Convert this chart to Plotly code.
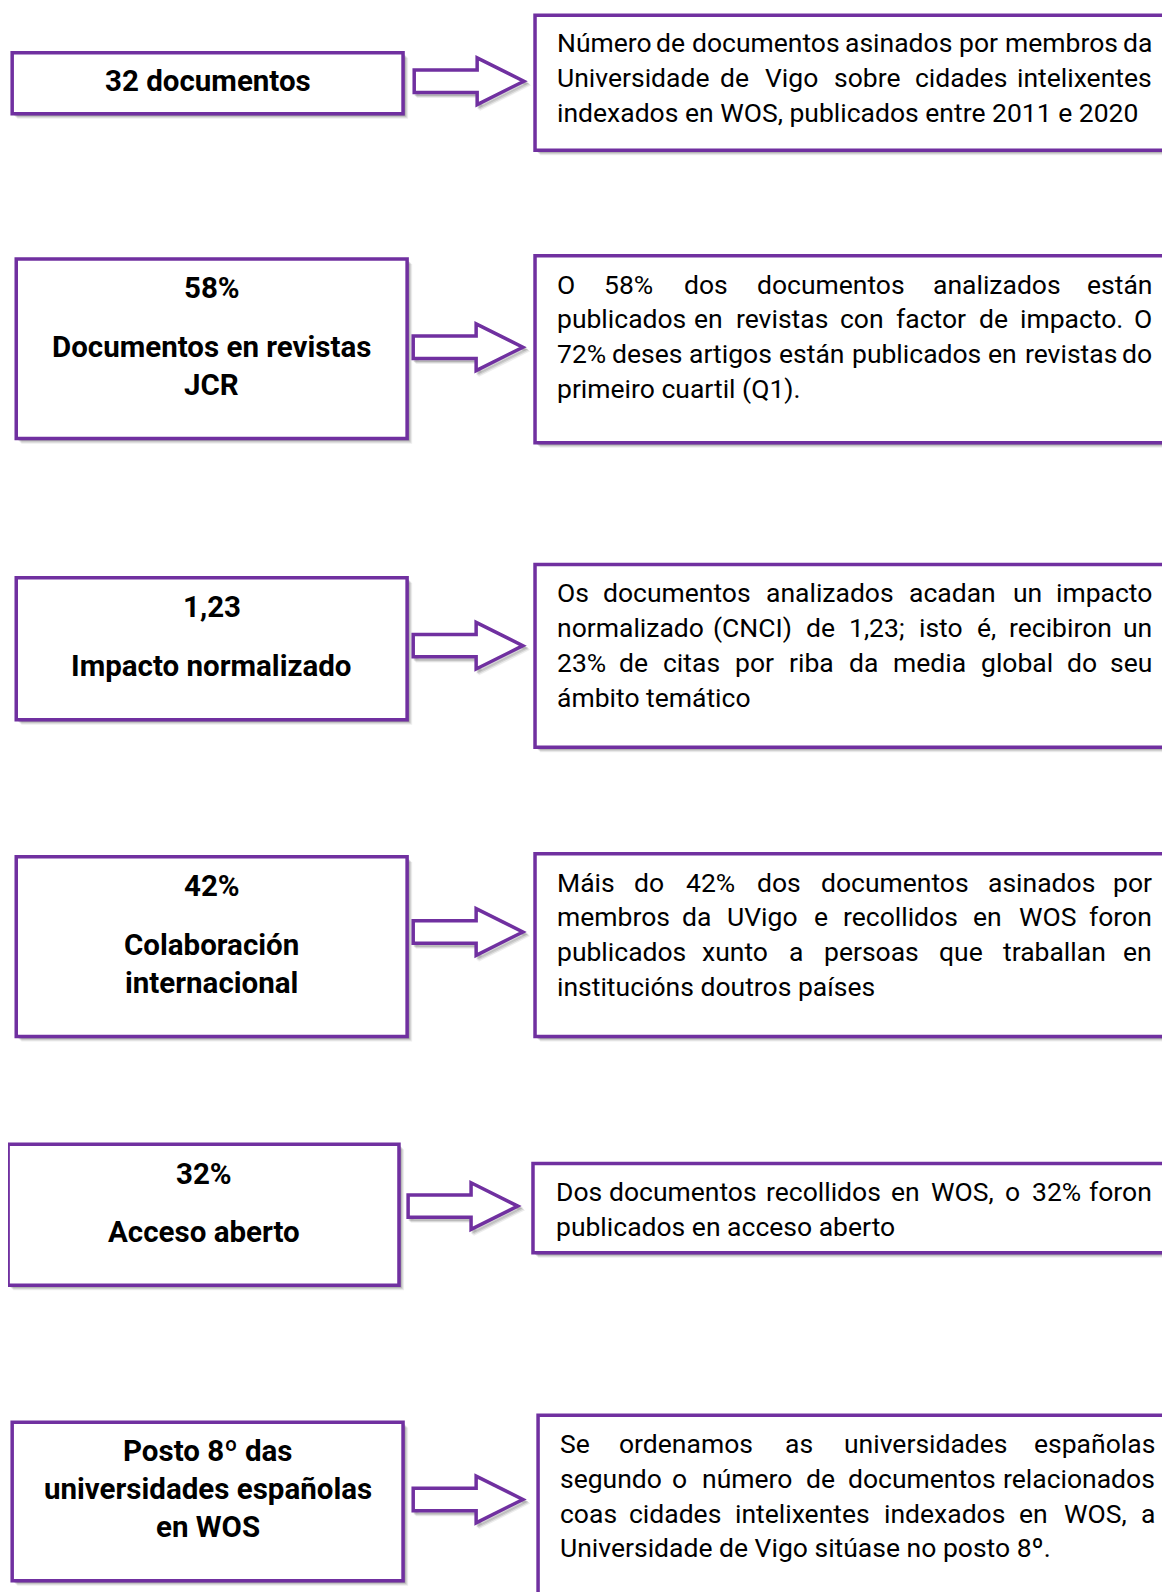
import plotly.graph_objects as go

# ---------------- data (texts) ----------------
left_texts = [
    ["32 documentos"],
    ["58%", "", "Documentos en revistas", "JCR"],
    ["1,23", "", "Impacto normalizado"],
    ["42%", "", "Colaboración", "internacional"],
    ["32%", "", "Acceso aberto"],
    ["Posto 8º das", "universidades españolas", "en WOS"],
]

right_texts = [
    ["Número de documentos asinados por membros da",
     "Universidade de Vigo sobre cidades intelixentes",
     "indexados en WOS, publicados entre 2011 e 2020"],
    ["O 58% dos documentos analizados están",
     "publicados en revistas con factor de impacto. O",
     "72% deses artigos están publicados en revistas do",
     "primeiro cuartil (Q1)."],
    ["Os documentos analizados acadan un impacto",
     "normalizado (CNCI) de 1,23; isto é, recibiron un",
     "23% de citas por riba da media global do seu",
     "ámbito temático"],
    ["Máis do 42% dos documentos asinados por",
     "membros da UVigo e recollidos en WOS foron",
     "publicados xunto a persoas que traballan en",
     "institucións doutros países"],
    ["Dos documentos recollidos en WOS, o 32% foron",
     "publicados en acceso aberto"],
    ["Se ordenamos as universidades españolas",
     "segundo o número de documentos relacionados",
     "coas cidades intelixentes indexados en WOS, a",
     "Universidade de Vigo sitúase no posto 8º."],
]

# ---------------- layout geometry ----------------
W, H = 1170, 1592
S = 0.985          # scale between layout units and page pixels
OFF = 8            # page body margin
PURPLE = "#7030A0"

left_boxes = [(12, 52, 397, 112), (16, 255, 401, 432), (16, 569, 401, 709),
              (16, 844, 401, 1021), (8, 1127, 393, 1266), (12, 1401, 397, 1557)]
left_first_y = [80, 284, 598, 873, 1156, 1429]
left_step = 37.5
left_blank = 20.5

right_boxes = [(527, 15, 1200, 148), (527, 252, 1200, 436), (527, 556, 1200, 736),
               (527, 841, 1200, 1021), (525, 1146, 1200, 1234), (530, 1394, 1200, 1620)]
right_text_x = [(546.5, 1137), (546.5, 1137), (546.5, 1137), (546.5, 1137), (545.5, 1137), (549.5, 1140)]
right_first_y = [42, 280, 584, 869, 1174, 1422]
right_step = 34.2

arrows = [(408, 80), (407, 342), (407, 636), (407, 918), (402, 1188), (407, 1477)]

FS_L = 29.5
FS_R = 26.5

# approximate Roboto Regular advance widths (em)
CW = {' ': .248, 'a': .531, 'b': .547, 'c': .51, 'd': .55, 'e': .517, 'f': .34, 'g': .547,
      'h': .538, 'i': .237, 'j': .233, 'k': .495, 'l': .237, 'm': .855, 'n': .539, 'o': .557,
      'p': .547, 'q': .55, 'r': .33, 's': .503, 't': .32, 'u': .538, 'v': .473, 'w': .733,
      'x': .485, 'y': .462, 'z': .485, 'á': .531, 'é': .517, 'í': .237, 'ú': .538, 'ñ': .539,
      'O': .686, 'W': .88, 'S': .59, 'U': .64, 'V': .64, 'Q': .686, 'C': .65, 'N': .71,
      'I': .27, 'D': .65, 'M': .87, '%': .73, ',': .2, '.': .26, '(': .34, ')': .35,
      ';': .21, 'º': .36}


def text_w(s, fs):
    # width in layout units
    return sum(CW.get(c, .56) for c in s) * fs * S


shapes = []
annotations = []


def shadow_rect(x0, y0, x1, y1):
    for off, a in [(5, 0.07), (4, 0.09), (3, 0.13), (2, 0.17)]:
        shapes.append(dict(type="rect", x0=x0 + off, y0=y0 + off, x1=x1 + off, y1=y1 + off,
                           line=dict(width=0), fillcolor=f"rgba(0,0,0,{a})", layer="below"))


def arrow_path(x0, cy, dx=0, dy=0):
    sh, hh, xb, xt = 11, 23, x0 + 62, x0 + 108
    pts = [(x0, cy - sh), (xb, cy - sh), (xb, cy - hh), (xt, cy), (xb, cy + hh),
           (xb, cy + sh), (x0, cy + sh)]
    return "M " + " L ".join(f"{x+dx},{y+dy}" for x, y in pts) + " Z"


# left boxes
for (x0, y0, x1, y1), lines, fy in zip(left_boxes, left_texts, left_first_y):
    shadow_rect(x0, y0, x1, y1)
    shapes.append(dict(type="rect", x0=x0, y0=y0, x1=x1, y1=y1,
                       line=dict(color=PURPLE, width=3.5), fillcolor="white"))
    cx = (x0 + x1) / 2
    y = fy
    for t in lines:
        if t == "":
            y += left_blank
            continue
        annotations.append(dict(x=cx, y=y, text=f"<b>{t}</b>", showarrow=False,
                                xanchor="center", yanchor="middle",
                                font=dict(family="Roboto", size=FS_L, color="black")))
        y += left_step

# arrows
for x0, cy in arrows:
    for off, a in [(4, 0.07), (3, 0.11), (2, 0.15)]:
        shapes.append(dict(type="path", path=arrow_path(x0, cy, off, off),
                           line=dict(color=f"rgba(0,0,0,{a})", width=3),
                           fillcolor="rgba(0,0,0,0)", layer="below"))
    shapes.append(dict(type="path", path=arrow_path(x0, cy),
                       line=dict(color=PURPLE, width=3.5), fillcolor="white"))

# right boxes
for (x0, y0, x1, y1), lines, (tx0, tx1), fy in zip(right_boxes, right_texts, right_text_x, right_first_y):
    shadow_rect(x0, y0, x1, y1)
    shapes.append(dict(type="rect", x0=x0, y0=y0, x1=x1, y1=y1,
                       line=dict(color=PURPLE, width=3.5), fillcolor="white"))
    for li, line in enumerate(lines):
        y = fy + li * right_step
        words = line.split(" ")
        last = li == len(lines) - 1
        if last or len(words) == 1:
            annotations.append(dict(x=tx0, y=y, text=line, showarrow=False,
                                    xanchor="left", yanchor="middle",
                                    font=dict(family="Roboto", size=FS_R, color="black")))
            continue
        ws = [text_w(w, FS_R) for w in words]
        gap = (tx1 - tx0 - sum(ws)) / (len(words) - 1)
        x = tx0
        for wi, (w, ww) in enumerate(zip(words, ws)):
            if wi == 0:
                xa, xx = "left", tx0
            elif wi == len(words) - 1:
                xa, xx = "right", tx1
            else:
                xa, xx = "center", x + ww / 2
            annotations.append(dict(x=xx, y=y, text=w, showarrow=False,
                                    xanchor=xa, yanchor="middle",
                                    font=dict(family="Roboto", size=FS_R, color="black")))
            x += ww + gap

fig = go.Figure()
fig.update_layout(
    width=W, height=H, margin=dict(l=0, r=0, t=0, b=0),
    paper_bgcolor="white", plot_bgcolor="white",
    xaxis=dict(range=[OFF * S, OFF * S + W * S], visible=False, fixedrange=True),
    yaxis=dict(range=[OFF * S + H * S, OFF * S], visible=False, fixedrange=True),
    shapes=shapes, annotations=annotations, showlegend=False,
)
fig.write_html("out.html", config={"displayModeBar": False})
